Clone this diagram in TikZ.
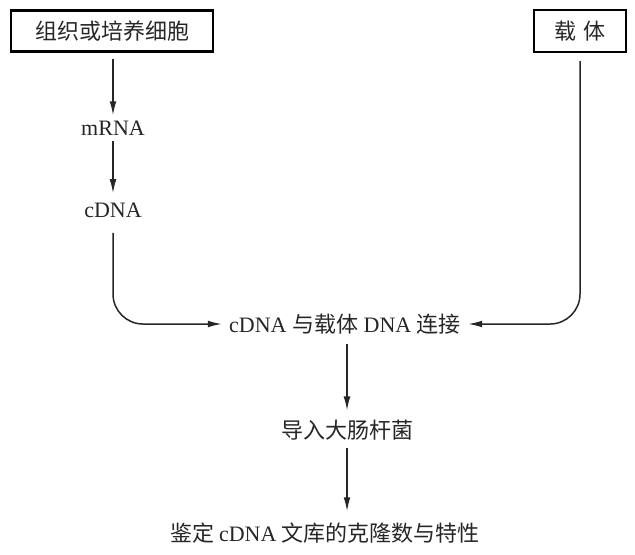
\documentclass[tikz,border=0pt]{standalone}
\usepackage{fontspec}
\setmainfont{Liberation Serif}
\newfontfamily\cjk{Noto Sans CJK SC}
\usetikzlibrary{arrows.meta}

\begin{document}
\begin{tikzpicture}[
	x=0.5pt, y=-0.5pt,
	font=\fontsize{11pt}{13pt}\selectfont,
	box/.style={ draw, line width=1.2pt, inner sep=0pt, text=black!85 },
	label/.style={ inner sep=1.5pt, text=black!85 },
	flow/.style={ draw=black!85, line width=0.75pt, -{Latex[length=7pt,width=3.4pt]} },
	link/.style={ flow, rounded corners=15pt }
]
\useasboundingbox (0,0) rectangle (635,554);

% sources
\node at (112,31) (cells) [box,minimum width=101pt,minimum height=20.5pt] {\cjk 组织或培养细胞};
\node at (580,31) (vector) [box,minimum width=46pt,minimum height=21pt] {\cjk 载\hspace{3.5pt}体};

% left column
\node at (113,128) (mrna) [label] {mRNA};
\node at (113,210) (cdna) [label] {cDNA};

% main column
\node at (345,324) (ligate) [label] {cDNA {\cjk 与载体} DNA {\cjk 连接}};
\node at (347,430) (ecoli) [label] {\cjk 导入大肠杆菌};
\node at (325,533) (ident) [label] {\cjk 鉴定 \rmfamily cDNA \cjk 文库的克隆数与特性};

% arrows
\draw[flow,shorten <=3pt,shorten >=1pt] (cells.south -| mrna) to (mrna);
\draw[flow,shorten <=1pt,shorten >=3pt] (mrna) to (cdna);
\draw[link,shorten <=6pt,shorten >=2pt] (cdna.south) |- (ligate.west);
\draw[link,shorten <=4pt,shorten >=2pt] (vector.south) |- (ligate.east);
\draw[flow,shorten <=3pt,shorten >=3pt] (ligate.south -| ecoli) to (ecoli.north);
\draw[flow,shorten <=2pt,shorten >=4pt] (ecoli.south) to (ecoli.south |- ident.north);

\end{tikzpicture}
\end{document}
